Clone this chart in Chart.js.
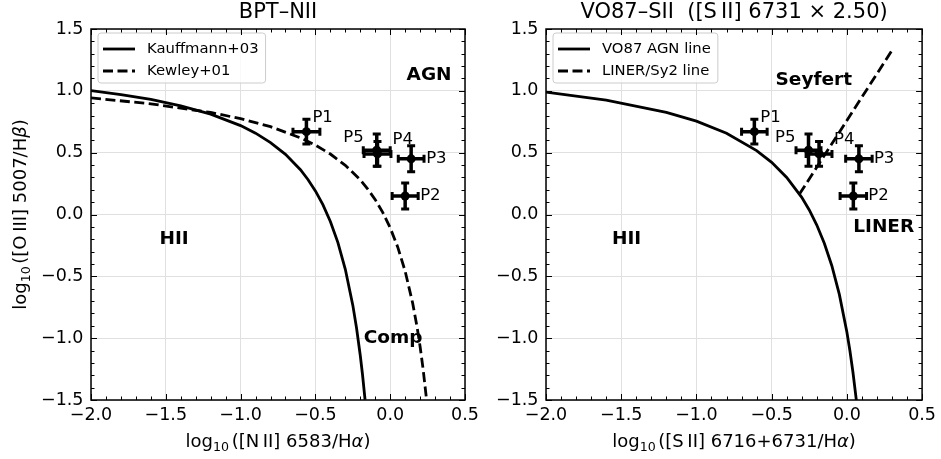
<!DOCTYPE html>
<html>
<head>
<meta charset="utf-8">
<script src="https://cdn.jsdelivr.net/npm/chart.js@4.4.1/dist/chart.umd.min.js"></script>
<style>
    body { margin: 0; background: #fff; }
    #wrap { position: relative; width: 941px; height: 459px; }
    #bptNii { position: absolute; left: 0; top: 0; }
    #vo87Sii { position: absolute; left: 470px; top: 0; }
</style>
</head>
<body>
<div id="wrap">
    <canvas id="bptNii" width="500" height="459"></canvas>
    <canvas id="vo87Sii" width="471" height="459"></canvas>
</div>
<script>
// ---- data ----
var pointNames = ['P1', 'P2', 'P3', 'P4', 'P5'];
var oiiiHb    = [0.67, 0.15, 0.45, 0.49, 0.52];
var oiiiErr   = [0.10, 0.105, 0.105, 0.10, 0.13];
var niiHa     = [-0.56, 0.10, 0.14, -0.085, -0.09];
var niiErr    = [0.09, 0.087, 0.086, 0.09, 0.09];
var siiHa     = [-0.615, 0.043, 0.08, -0.185, -0.255];
var siiErr    = [0.085, 0.088, 0.088, 0.086, 0.083];

var kauffX = [-2.0, -1.8, -1.6, -1.4, -1.2, -1.0, -0.9, -0.8, -0.7, -0.6, -0.55, -0.5, -0.45, -0.4, -0.35, -0.3, -0.25, -0.225, -0.2, -0.185, -0.168];
var kauffY = [1.002, 0.970, 0.930, 0.879, 0.812, 0.719, 0.658, 0.582, 0.487, 0.362, 0.283, 0.191, 0.080, -0.056, -0.225, -0.443, -0.733, -0.918, -1.140, -1.296, -1.498];
var kewleyX = [-2.0, -1.6, -1.2, -1.0, -0.8, -0.6, -0.5, -0.4, -0.3, -0.2, -0.15, -0.1, -0.05, 0.0, 0.05, 0.1, 0.15, 0.18, 0.2, 0.22, 0.243];
var kewleyY = [0.943, 0.895, 0.825, 0.775, 0.710, 0.620, 0.561, 0.489, 0.398, 0.280, 0.206, 0.120, 0.017, -0.108, -0.262, -0.459, -0.716, -0.913, -1.069, -1.250, -1.497];
var vo87X = [-2.0, -1.6, -1.2, -1.0, -0.8, -0.6, -0.5, -0.4, -0.3, -0.25, -0.2, -0.15, -0.1, -0.05, 0.0, 0.02, 0.04, 0.063];
var vo87Y = [0.990, 0.925, 0.826, 0.755, 0.657, 0.517, 0.422, 0.300, 0.139, 0.037, -0.085, -0.232, -0.414, -0.646, -0.950, -1.100, -1.271, -1.502];
var linerX = [-0.315, 0.31];
var linerY = [0.165, 1.346];

var niiRegions  = ['AGN', 'HII', 'Comp'];
var niiRegionX  = [0.26, -1.445, 0.02];
var niiRegionY  = [1.13, -0.20, -1.0];
var siiRegions  = ['Seyfert', 'HII', 'LINER'];
var siiRegionX  = [-0.22, -1.464, 0.245];
var siiRegionY  = [1.09, -0.20, -0.105];

var xMin = -2.0, xMax = 0.5, yMin = -1.5, yMax = 1.5;

// ---- styling ----
var FONT = "'DejaVu Sans', sans-serif";
var TICK_SIZE = 17.5, LABEL_SIZE = 18;
// label placement per point: dx, dy (px), align, baseline
var labelStyle = [
    { dx: 6,   dy: -10, align: 'left',  base: 'alphabetic' },
    { dx: 15,  dy: 0,   align: 'left',  base: 'middle' },
    { dx: 15,  dy: 0,   align: 'left',  base: 'middle' },
    { dx: 15,  dy: -10, align: 'left',  base: 'alphabetic' },
    { dx: -13, dy: -8,  align: 'right', base: 'alphabetic' }
];

// per-canvas settings, looked up by canvas id inside the plugin
var panels = {};

function xy(xs, ys) {
    return xs.map(function (x, i) { return { x: x, y: ys[i] }; });
}

function fmt(v) {
    return v.toFixed(1).replace('-', '\u2212');
}

// axis label with a real subscript, like matplotlib mathtext
function mathParts(body, greek) {
    return [
        { t: 'log', s: 1, shift: 0, italic: false },
        { t: '10', s: 0.7, shift: 0.22, italic: false },
        { t: ' ', s: 0.45, shift: 0, italic: false },
        { t: body, s: 1, shift: 0, italic: false },
        { t: greek, s: 1, shift: 0, italic: true },
        { t: ')', s: 1, shift: 0, italic: false }
    ];
}

function drawMath(ctx, parts, size, cx, cy, rotated) {
    function font(p) { return (p.italic ? 'italic ' : '') + (size * p.s).toFixed(1) + 'px ' + FONT; }
    var widths = [], total = 0;
    parts.forEach(function (p) {
        ctx.font = font(p);
        var w = ctx.measureText(p.t).width;
        widths.push(w);
        total += w;
    });
    ctx.save();
    ctx.translate(cx, cy);
    if (rotated) ctx.rotate(-Math.PI / 2);
    ctx.fillStyle = '#000';
    ctx.textAlign = 'left';
    ctx.textBaseline = 'alphabetic';
    var x = -total / 2, base = size * 0.36;
    parts.forEach(function (p, i) {
        ctx.font = font(p);
        ctx.fillText(p.t, x, base + p.shift * size);
        x += widths[i];
    });
    ctx.restore();
}

var panelPlugin = {
    id: 'panelDecor',
    afterDatasetsDraw: function (chart) {
        var cfg = panels[chart.canvas.id];
        var ctx = chart.ctx;
        var a = chart.chartArea;
        var sx = chart.scales.x, sy = chart.scales.y;
        ctx.save();

        // error bars + point labels
        ctx.strokeStyle = '#000';
        cfg.xs.forEach(function (xv, i) {
            var px = sx.getPixelForValue(xv), py = sy.getPixelForValue(oiiiHb[i]);
            var x0 = sx.getPixelForValue(xv - cfg.xe[i]), x1 = sx.getPixelForValue(xv + cfg.xe[i]);
            var y0 = sy.getPixelForValue(oiiiHb[i] - oiiiErr[i]), y1 = sy.getPixelForValue(oiiiHb[i] + oiiiErr[i]);
            ctx.lineWidth = 3.5;
            ctx.beginPath();
            ctx.moveTo(x0, py); ctx.lineTo(x1, py);
            ctx.moveTo(px, y0); ctx.lineTo(px, y1);
            ctx.stroke();
            ctx.lineWidth = 3;
            ctx.beginPath();
            ctx.moveTo(x0, py - 4); ctx.lineTo(x0, py + 4);
            ctx.moveTo(x1, py - 4); ctx.lineTo(x1, py + 4);
            ctx.moveTo(px - 4, y0); ctx.lineTo(px + 4, y0);
            ctx.moveTo(px - 4, y1); ctx.lineTo(px + 4, y1);
            ctx.stroke();
            var ls = labelStyle[i];
            ctx.fillStyle = '#000';
            ctx.font = '16.5px ' + FONT;
            ctx.textAlign = ls.align;
            ctx.textBaseline = ls.base;
            ctx.fillText(pointNames[i], px + ls.dx, py + ls.dy);
        });

        // region labels
        ctx.font = 'bold 18.5px ' + FONT;
        ctx.textAlign = 'center';
        ctx.textBaseline = 'middle';
        cfg.regions.forEach(function (r, i) {
            ctx.fillText(r, sx.getPixelForValue(cfg.regionX[i]), sy.getPixelForValue(cfg.regionY[i]));
        });

        // legend
        var ds = chart.data.datasets.slice(0, 2);
        ctx.font = '14.8px ' + FONT;
        var tw = Math.max.apply(null, ds.map(function (d) { return ctx.measureText(d.label).width; }));
        var bx = a.left + 7, by = a.top + 4, bw = 49 + tw + 7, bh = 50;
        ctx.beginPath();
        ctx.roundRect(bx, by, bw, bh, 3);
        ctx.fillStyle = 'rgba(255,255,255,0.8)';
        ctx.fill();
        ctx.strokeStyle = '#cccccc';
        ctx.lineWidth = 1;
        ctx.stroke();
        ds.forEach(function (d, i) {
            var ly = by + 16 + i * 22;
            ctx.beginPath();
            ctx.setLineDash(d.borderDash || []);
            ctx.strokeStyle = '#000';
            ctx.lineWidth = 2.8;
            ctx.moveTo(bx + 5, ly); ctx.lineTo(bx + 37, ly);
            ctx.stroke();
            ctx.setLineDash([]);
            ctx.fillStyle = '#000';
            ctx.textAlign = 'left';
            ctx.textBaseline = 'middle';
            ctx.fillText(d.label, bx + 49, ly);
        });

        // inward ticks on all four sides
        ctx.strokeStyle = '#000';
        ctx.lineWidth = 1;
        ctx.beginPath();
        for (var i = Math.round(xMin * 10); i <= Math.round(xMax * 10); i++) {
            var len = i % 5 === 0 ? 6 : 3.5;
            var p = Math.round(sx.getPixelForValue(i / 10)) + 0.5;
            ctx.moveTo(p, a.bottom); ctx.lineTo(p, a.bottom - len);
            ctx.moveTo(p, a.top); ctx.lineTo(p, a.top + len);
        }
        for (var j = Math.round(yMin * 10); j <= Math.round(yMax * 10); j++) {
            var len2 = j % 5 === 0 ? 6 : 3.5;
            var q = Math.round(sy.getPixelForValue(j / 10)) + 0.5;
            ctx.moveTo(a.left, q); ctx.lineTo(a.left + len2, q);
            ctx.moveTo(a.right, q); ctx.lineTo(a.right - len2, q);
        }
        ctx.stroke();

        // frame
        ctx.lineWidth = 1.5;
        ctx.strokeRect(a.left, a.top, a.right - a.left, a.bottom - a.top);

        // axis titles
        drawMath(ctx, cfg.xTitle, LABEL_SIZE, (a.left + a.right) / 2, 441, false);
        if (cfg.yTitle) drawMath(ctx, cfg.yTitle, LABEL_SIZE, 20, (a.top + a.bottom) / 2, true);
        ctx.restore();
    }
};

function makePanel(id, cfg) {
    var existing = Chart.getChart(id);
    if (existing) existing.destroy();
    panels[id] = cfg;

    new Chart(document.getElementById(id).getContext('2d'), {
        type: 'scatter',
        data: {
            datasets: [
                {
                    label: cfg.solidLabel,
                    data: cfg.solid,
                    showLine: true,
                    borderColor: '#000',
                    borderWidth: 2.8,
                    pointRadius: 0,
                    tension: 0
                },
                {
                    label: cfg.dashLabel,
                    data: cfg.dash,
                    showLine: true,
                    borderColor: '#000',
                    borderWidth: 2.8,
                    borderDash: [10, 4.5],
                    pointRadius: 0,
                    tension: 0
                },
                {
                    label: 'points',
                    data: xy(cfg.xs, oiiiHb),
                    pointRadius: 4.5,
                    pointBackgroundColor: '#000',
                    pointBorderColor: '#000',
                    pointBorderWidth: 0
                }
            ]
        },
        options: {
            responsive: false,
            animation: false,
            layout: { padding: { left: 0, right: cfg.padRight, top: 0, bottom: 0 } },
            plugins: {
                legend: { display: false },
                tooltip: { enabled: false },
                title: {
                    display: true,
                    fullSize: false,
                    text: cfg.title,
                    color: '#000',
                    font: { family: FONT, size: 21, weight: 'normal' },
                    padding: { top: 0, bottom: 3.8 }
                }
            },
            scales: {
                x: {
                    type: 'linear',
                    min: xMin,
                    max: xMax,
                    grid: { color: '#e0e0e0', lineWidth: 1, drawTicks: false },
                    border: { display: false },
                    ticks: {
                        stepSize: 0.5,
                        padding: 5,
                        maxRotation: 0,
                        autoSkip: false,
                        color: '#000',
                        font: { family: FONT, size: TICK_SIZE },
                        callback: fmt
                    },
                    afterFit: function (s) { s.height = 59; }
                },
                y: {
                    type: 'linear',
                    min: yMin,
                    max: yMax,
                    grid: { color: '#e0e0e0', lineWidth: 1, drawTicks: false },
                    border: { display: false },
                    ticks: {
                        stepSize: 0.5,
                        padding: 7.5,
                        color: '#000',
                        font: { family: FONT, size: TICK_SIZE },
                        callback: fmt
                    },
                    afterFit: function (s) { s.width = cfg.yWidth; }
                }
            }
        },
        plugins: [panelPlugin]
    });
}

window.addEventListener('load', function () {
    makePanel('bptNii', {
        title: 'BPT\u2013NII',
        xTitle: mathParts('([N\u2009II] 6583/H', '\u03b1'),
        yTitle: mathParts('([O\u2009III] 5007/H', '\u03b2'),
        solidLabel: 'Kauffmann+03',
        dashLabel: 'Kewley+01',
        solid: xy(kauffX, kauffY),
        dash: xy(kewleyX, kewleyY),
        xs: niiHa,
        xe: niiErr,
        regions: niiRegions,
        regionX: niiRegionX,
        regionY: niiRegionY,
        yWidth: 91,
        padRight: 35
    });
    makePanel('vo87Sii', {
        title: 'VO87\u2013SII  ([S\u2009II] 6731 \u00d7 2.50)',
        xTitle: mathParts('([S\u2009II] 6716+6731/H', '\u03b1'),
        yTitle: null,
        solidLabel: 'VO87 AGN line',
        dashLabel: 'LINER/Sy2 line',
        solid: xy(vo87X, vo87Y),
        dash: xy(linerX, linerY),
        xs: siiHa,
        xe: siiErr,
        regions: siiRegions,
        regionX: siiRegionX,
        regionY: siiRegionY,
        yWidth: 76,
        padRight: 17
    });
});
</script>
</body>
</html>
